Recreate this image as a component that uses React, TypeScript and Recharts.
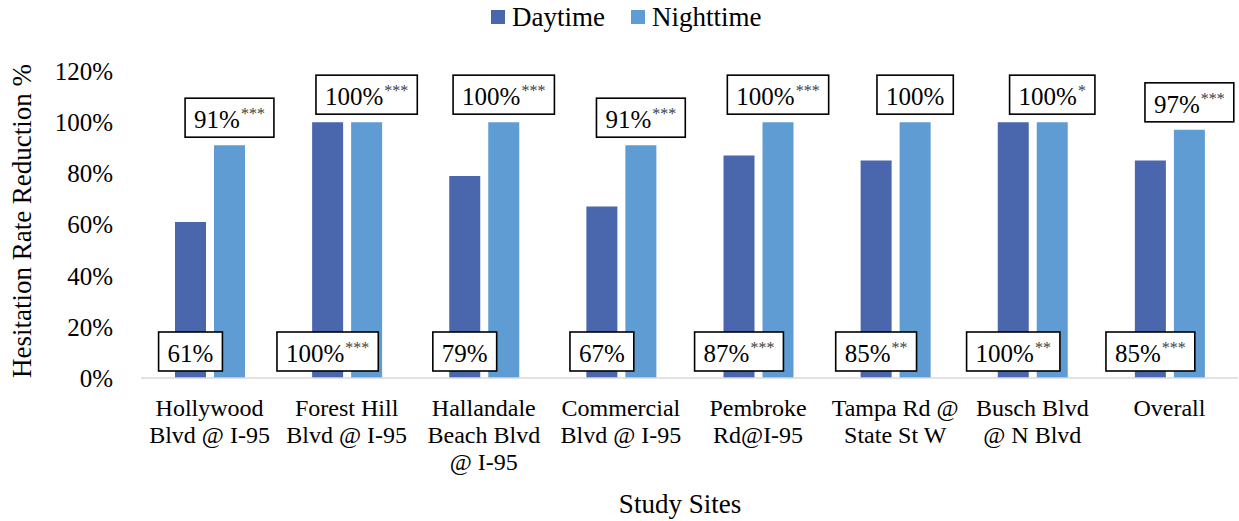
import { BarChart, Bar, XAxis, YAxis, Legend, LabelList, Label } from "recharts";

// Valeurs
const siteLines = [
  ["Hollywood", "Blvd @ I-95"],
  ["Forest Hill", "Blvd @ I-95"],
  ["Hallandale", "Beach Blvd", "@ I-95"],
  ["Commercial", "Blvd @ I-95"],
  ["Pembroke", "Rd@I-95"],
  ["Tampa Rd @", "State St W"],
  ["Busch Blvd", "@ N Blvd"],
  ["Overall"],
];
const daytime = [61, 100, 79, 67, 87, 85, 100, 85];
const nighttime = [91, 100, 100, 91, 100, 100, 100, 97];
const daytimeStars = ["", "***", "", "", "***", "**", "**", "***"];
const nighttimeStars = ["***", "***", "***", "***", "***", "", "*", "***"];
const yTicks = [0, 20, 40, 60, 80, 100, 120];

const DAY_COLOR = "#4a66ac";
const NIGHT_COLOR = "#5e9cd3";
const FONT = "Liberation Serif, serif";

const data = siteLines.map((lines, i) => ({
  site: lines.join(" "),
  Daytime: daytime[i],
  Nighttime: nighttime[i],
  dayLabel: `${daytime[i]}%|${daytimeStars[i]}`,
  nightLabel: `${nighttime[i]}%|${nighttimeStars[i]}`,
}));

// mesure du texte pour dimensionner les cadres
const ctx = typeof document !== "undefined" ? document.createElement("canvas").getContext("2d") : null;
function measure(text: string, size: number) {
  if (!ctx) return text.length * size * 0.5;
  ctx.font = `${size}px Liberation Serif, serif`;
  return ctx.measureText(text).width;
}

function ValueBox({ cx, bottom, label }: { cx: number; bottom: number; label: string }) {
  const [main, stars] = String(label).split("|");
  const mainW = measure(main, 25);
  const starW = stars ? measure(stars, 16) + 1 : 0;
  const w = mainW + starW + 18;
  const h = 39;
  const left = cx - w / 2;
  const top = bottom - h;
  return (
    <g>
      <rect x={left} y={top} width={w} height={h} fill="#fff" stroke="#000" strokeWidth={1.6} />
      <text x={left + 9} y={top + 30} style={{ fontSize: 25, fontFamily: FONT }} fill="#000">
        {main}
        {stars ? (
          <tspan dx={1} dy={-9} style={{ fontSize: 16 }} fill="#404040">
            {stars}
          </tspan>
        ) : null}
      </text>
    </g>
  );
}

const SiteTick = (props: any) => {
  const { x, y, payload } = props;
  const lines = siteLines[payload.index] || [payload.value];
  return (
    <text x={x} y={y + 30} textAnchor="middle" style={{ fontSize: 24, fontFamily: FONT }} fill="#000">
      {lines.map((line, i) => (
        <tspan key={i} x={x} dy={i === 0 ? 0 : 27}>
          {line}
        </tspan>
      ))}
    </text>
  );
};

const renderLegend = (props: any) => {
  const { payload = [] } = props;
  return (
    <div style={{ display: "flex", alignItems: "center", height: 34, paddingLeft: 491, fontFamily: FONT }}>
      {payload.map((entry: any, i: number) => (
        <div key={i} style={{ display: "flex", alignItems: "center", marginRight: 26 }}>
          <span style={{ width: 14, height: 14, background: entry.color, marginRight: 7, display: "inline-block" }} />
          <span style={{ fontSize: 27, lineHeight: 1, color: "#000", fontFamily: FONT }}>{entry.value}</span>
        </div>
      ))}
    </div>
  );
};

export default function App() {
  return (
    <div style={{ position: "absolute", left: 0, top: 0, background: "#fff", fontFamily: FONT }}>
      <BarChart
        width={1239}
        height={521}
        data={data}
        margin={{ top: 71, right: 1, bottom: 43, left: 0 }}
        barSize={31}
        barGap={8}
        style={{ fontFamily: FONT }}
      >
        <XAxis
          dataKey="site"
          interval={0}
          height={100}
          tickLine={false}
          axisLine={{ stroke: "#d9d9d9", strokeWidth: 1.5 }}
          tick={<SiteTick />}
        >
          <Label
            content={() => (
              <text x={680} y={513} textAnchor="middle" style={{ fontSize: 27, fontFamily: FONT }} fill="#000">
                Study Sites
              </text>
            )}
          />
        </XAxis>
        <YAxis
          domain={[0, 120]}
          ticks={yTicks}
          width={141}
          axisLine={false}
          tickLine={false}
          tickMargin={22}
          tickFormatter={(v) => `${v}%`}
          tick={{ fontSize: 25, fontFamily: FONT, fill: "#000", style: { fontFamily: FONT } }}
        >
          <Label
            content={() => (
              <text
                x={31}
                y={221}
                transform="rotate(-90, 31, 221)"
                textAnchor="middle"
                style={{ fontSize: 27, fontFamily: FONT }}
                fill="#000"
              >
                Hesitation Rate Reduction %
              </text>
            )}
          />
        </YAxis>
        <Legend verticalAlign="middle" wrapperStyle={{ top: 0, left: 0, width: 1239 }} content={renderLegend} />
        <Bar dataKey="Daytime" fill={DAY_COLOR} isAnimationActive={false} />
        <Bar dataKey="Nighttime" fill={NIGHT_COLOR} isAnimationActive={false}>
          <LabelList
            dataKey="dayLabel"
            content={(p: any) => <ValueBox cx={p.x + p.width / 2 - (p.width + 8)} bottom={371} label={p.value} />}
          />
          <LabelList
            dataKey="nightLabel"
            content={(p: any) => <ValueBox cx={p.x + p.width / 2} bottom={p.y - 8} label={p.value} />}
          />
        </Bar>
      </BarChart>
    </div>
  );
}
